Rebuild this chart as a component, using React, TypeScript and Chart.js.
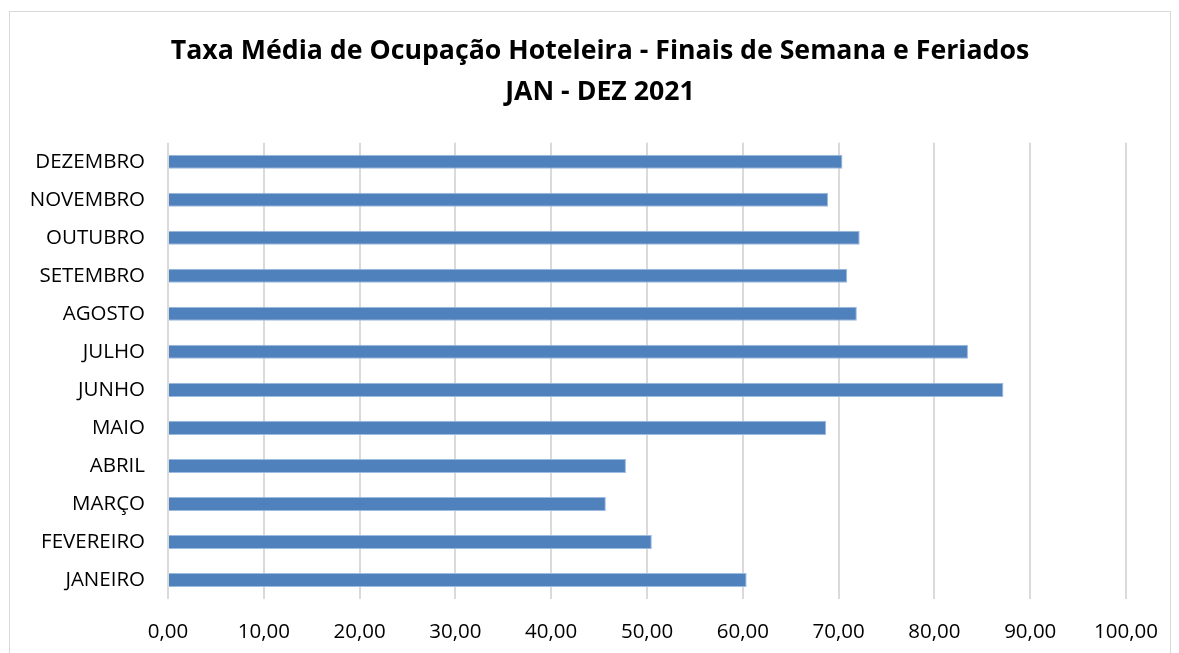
import React, { useEffect, useRef } from "react";
import { Chart, registerables } from "chart.js";

Chart.register(...registerables);

const months = [
  "DEZEMBRO",
  "NOVEMBRO",
  "OUTUBRO",
  "SETEMBRO",
  "AGOSTO",
  "JULHO",
  "JUNHO",
  "MAIO",
  "ABRIL",
  "MARÇO",
  "FEVEREIRO",
  "JANEIRO",
];

const occupancy = [70.4, 68.9, 72.2, 70.9, 71.9, 83.5, 87.2, 68.7, 47.8, 45.7, 50.5, 60.4];

const xTickLabels = [
  "0,00",
  "10,00",
  "20,00",
  "30,00",
  "40,00",
  "50,00",
  "60,00",
  "70,00",
  "80,00",
  "90,00",
  "100,00",
];

const titleLines = [
  "Taxa Média de Ocupação Hoteleira - Finais de Semana e Feriados",
  "JAN - DEZ 2021",
];

const FONT = "'Open Sans', Lato, sans-serif";

const unclipYLabels = {
  id: "unclipYLabels",
  afterLayout(chart: any) {
    const y = chart.scales.y;
    if (y) y.left = 0;
  },
};

export default function App() {
  const canvasRef = useRef<HTMLCanvasElement | null>(null);

  useEffect(() => {
    const canvas = canvasRef.current;
    if (!canvas) return;
    const chart = new Chart(canvas, {
      type: "bar",
      data: {
        labels: months,
        datasets: [
          {
            data: occupancy,
            backgroundColor: "#4f81bd",
            borderColor: "#9dbbe0",
            borderWidth: 1,
            borderSkipped: "start",
            barPercentage: 0.37,
            categoryPercentage: 1,
          },
        ],
      },
      options: {
        indexAxis: "y",
        responsive: false,
        animation: false,
        layout: { padding: { top: 0, left: 72, right: 51, bottom: 0 } },
        plugins: {
          legend: { display: false },
          tooltip: { enabled: false },
          title: {
            display: true,
            text: titleLines,
            color: "#000000",
            font: { family: FONT, size: 26.7, weight: "bold", lineHeight: 1.53 },
            padding: { top: 31, bottom: 30 },
          },
        },
        scales: {
          x: {
            min: 0,
            max: 100,
            grid: {
              color: "#dadada",
              lineWidth: 2,
              drawTicks: false,
            },
            border: { display: false },
            ticks: {
              stepSize: 10,
              padding: 21,
              color: "#000000",
              font: { family: FONT, size: 20.5 },
              maxRotation: 0,
              callback: (_v: any, i: number) => xTickLabels[i],
            },
            afterFit: (scale: any) => {
              scale.height = 54;
            },
          },
          y: {
            grid: { display: false, drawTicks: false },
            border: { display: false },
            ticks: {
              padding: 23,
              color: "#000000",
              font: { family: FONT, size: 20.5 },
            },
            afterFit: (scale: any) => {
              scale.width = 96;
            },
          },
        },
      },
      plugins: [unclipYLabels],
    });
    return () => chart.destroy();
  }, []);

  return (
    <div
      style={{
        position: "fixed",
        left: 0,
        top: 0,
        width: 1179,
        height: 653,
        background: "#ffffff",
        overflow: "hidden",
      }}
    >
      <div
        style={{
          position: "absolute",
          left: 9,
          top: 11,
          width: 1160,
          height: 700,
          border: "1px solid #d9d9d9",
        }}
      />
      <canvas
        ref={canvasRef}
        width={1179}
        height={653}
        style={{ position: "absolute", left: 0, top: 0 }}
      />
    </div>
  );
}
